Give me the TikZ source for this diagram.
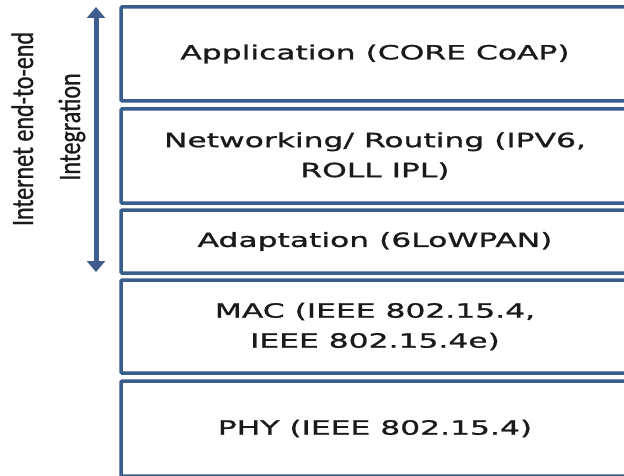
\documentclass[tikz,border=0pt]{standalone}
\usepackage{fontspec}
\usetikzlibrary{arrows.meta}
\newfontfamily\boxfont[FakeStretch=1.6,FakeBold=1.2]{DejaVu Sans}
\newfontfamily\rotfont[FakeStretch=0.775,FakeBold=0.8]{Carlito}
\definecolor{edgeblue}{HTML}{385D8A}
\definecolor{arrowblue}{HTML}{3F5E90}
\definecolor{txt}{HTML}{1A1A1A}
\tikzset{
  layer/.style={draw=edgeblue, line width=3.5pt, rounded corners=1pt, fill=white,
    minimum width=508pt, inner sep=0pt, align=center, text=txt,
    font=\boxfont\fontsize{19.6}{30}\selectfont},
  sidelabel/.style={rotate=90, anchor=base, text=txt, inner sep=0pt,
    font=\rotfont\fontsize{31}{46}\selectfont},
  bigarrow/.style={draw=arrowblue, line width=5pt,
    {Triangle[width=18pt,length=11pt]}-{Triangle[width=18pt,length=11pt]}}
}
\begin{document}
\begin{tikzpicture}[x=1pt,y=-1pt]
\path[use as bounding box, clip] (0,0) rectangle (624,476);
\fill[white] (0,0) rectangle (624,476);
\node[layer, minimum height=94pt] (app) at (375,54) {Application (CORE CoAP)};
\node[layer, minimum height=94pt] (net) at (375,156) {Networking/ Routing (IPV6,\\ROLL IPL)};
\node[layer, minimum height=63pt] (adp) at (375,241.5) {Adaptation (6LoWPAN)};
\node[layer, minimum height=93pt] (mac) at (375,326.5) {MAC (IEEE 802.15.4,\\IEEE 802.15.4e)};
\node[layer, minimum height=95pt] (phy) at (375,428.5) {PHY (IEEE 802.15.4)};
\coordinate (atop) at (96,7);
\coordinate (abot) at (96,272);
\draw[bigarrow] (abot) -- (atop);
\node[sidelabel] (l1) at (33,129) {Internet end-to-end};
\node[sidelabel] (l2) at (80,127) {Integration};
\end{tikzpicture}
\end{document}
